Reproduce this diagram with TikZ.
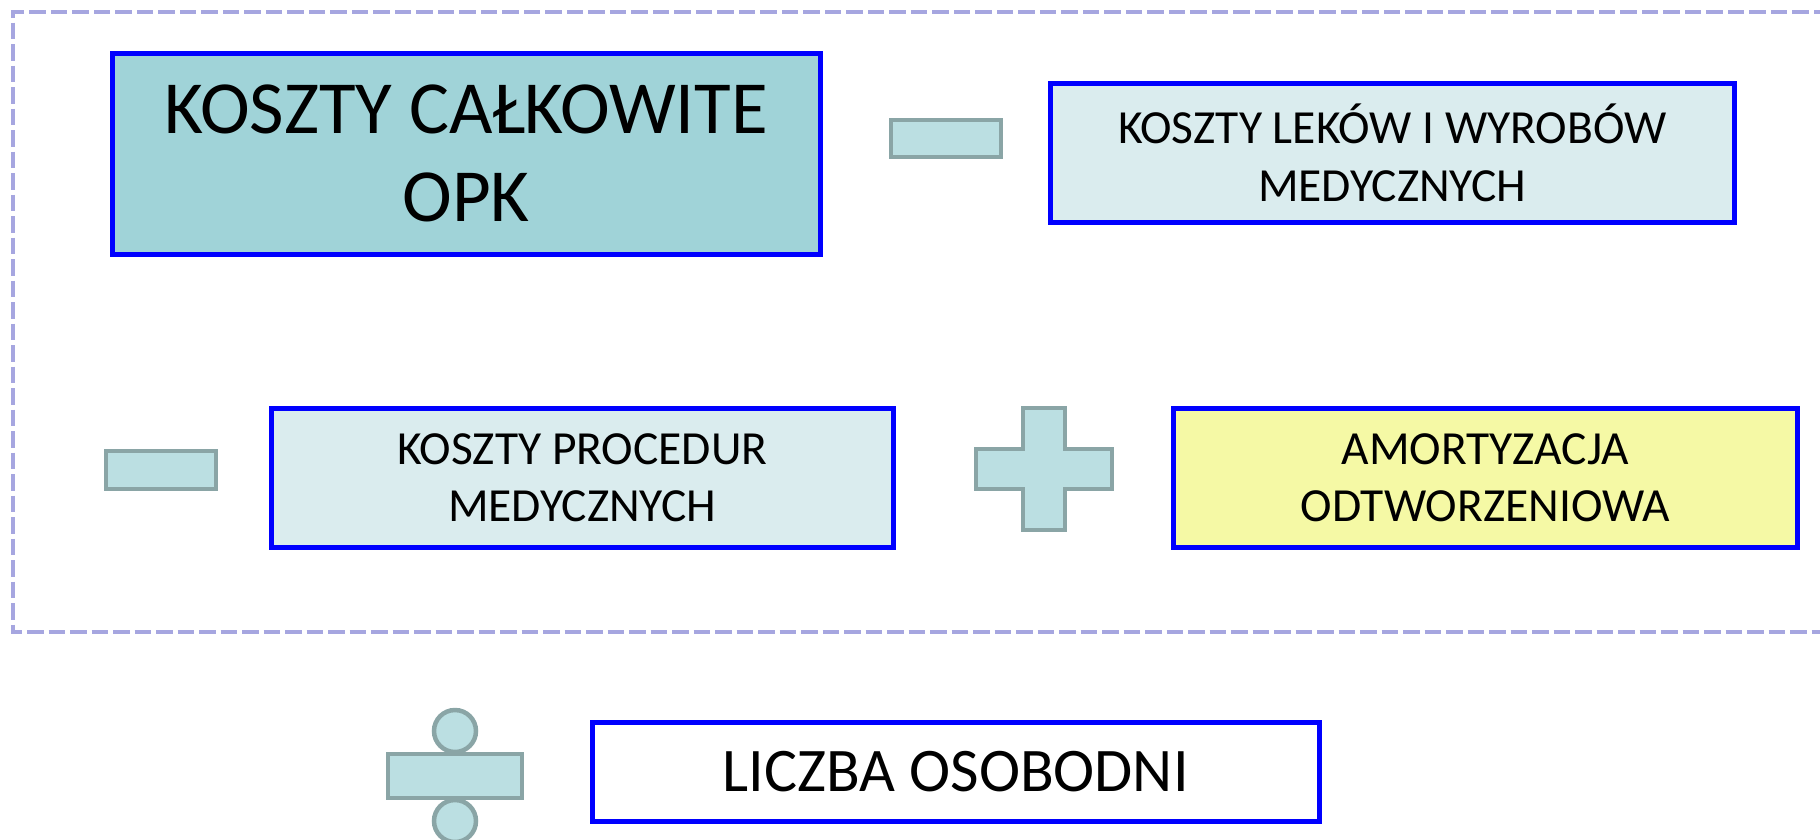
\documentclass[tikz,border=0pt]{standalone}
\usepackage{fontspec}
\setmainfont{Carlito}
\definecolor{frameC}{RGB}{166,166,224}
\definecolor{boxblue}{RGB}{0,0,255}
\definecolor{tealfill}{RGB}{160,211,216}
\definecolor{palefill}{RGB}{218,236,238}
\definecolor{yelfill}{RGB}{245,249,165}
\definecolor{symfill}{RGB}{187,223,226}
\definecolor{symline}{RGB}{138,165,166}
\tikzset{
  box/.style={draw=boxblue, line width=4.5pt, align=center, inner sep=0pt, anchor=north west},
  sym/.style={draw=symline, fill=symfill, line width=4.5pt},
  frm/.style={draw=frameC, line width=4.5pt, dash pattern=on 16.5pt off 5pt}
}
\begin{document}
\begin{tikzpicture}[x=1pt,y=-1pt]
\useasboundingbox (0,0) rectangle (1820,839);
\clip (0,0) rectangle (1820,839);
\draw[frm] (1830,12) -- (13,12) -- (13,632) -- (1830,632);
% row 1
\node[box, fill=tealfill, minimum width=708pt, minimum height=201pt,
      font=\fontsize{75}{88}\selectfont] (total) at (110,51) {KOSZTY CAŁKOWITE\\OPK};
\draw[sym] (891,120) rectangle (1001,157) coordinate (minus1);
\node[box, fill=palefill, minimum width=684pt, minimum height=139pt,
      font=\fontsize{47.5}{58}\selectfont] (leki) at (1048,81) {KOSZTY LEKÓW I WYROBÓW\\MEDYCZNYCH};
% row 2
\draw[sym] (106,451) rectangle (216,489) coordinate (minus2);
\node[box, fill=palefill, minimum width=622pt, minimum height=139pt,
      font=\fontsize{47.5}{57}\selectfont] (proc) at (269,406) {KOSZTY PROCEDUR\\MEDYCZNYCH};
\draw[sym] (1023,408) -- (1065,408) -- (1065,449) -- (1112,449) -- (1112,489) -- (1065,489)
  -- (1065,530) -- (1023,530) -- (1023,489) -- (976,489) -- (976,449) -- (1023,449) -- cycle;
\node[box, fill=yelfill, minimum width=624pt, minimum height=139pt,
      font=\fontsize{47.5}{57}\selectfont] (amort) at (1171,406) {AMORTYZACJA\\ODTWORZENIOWA};
% divide
\draw[sym] (388,754) rectangle (522,798);
\draw[sym] (455,731) circle (21pt);
\draw[sym] (455,821) circle (21pt);
\node[box, fill=white, minimum width=727pt, minimum height=99pt,
      font=\fontsize{62}{70}\selectfont] (liczba) at (590,720) {LICZBA OSOBODNI};
\end{tikzpicture}
\end{document}
